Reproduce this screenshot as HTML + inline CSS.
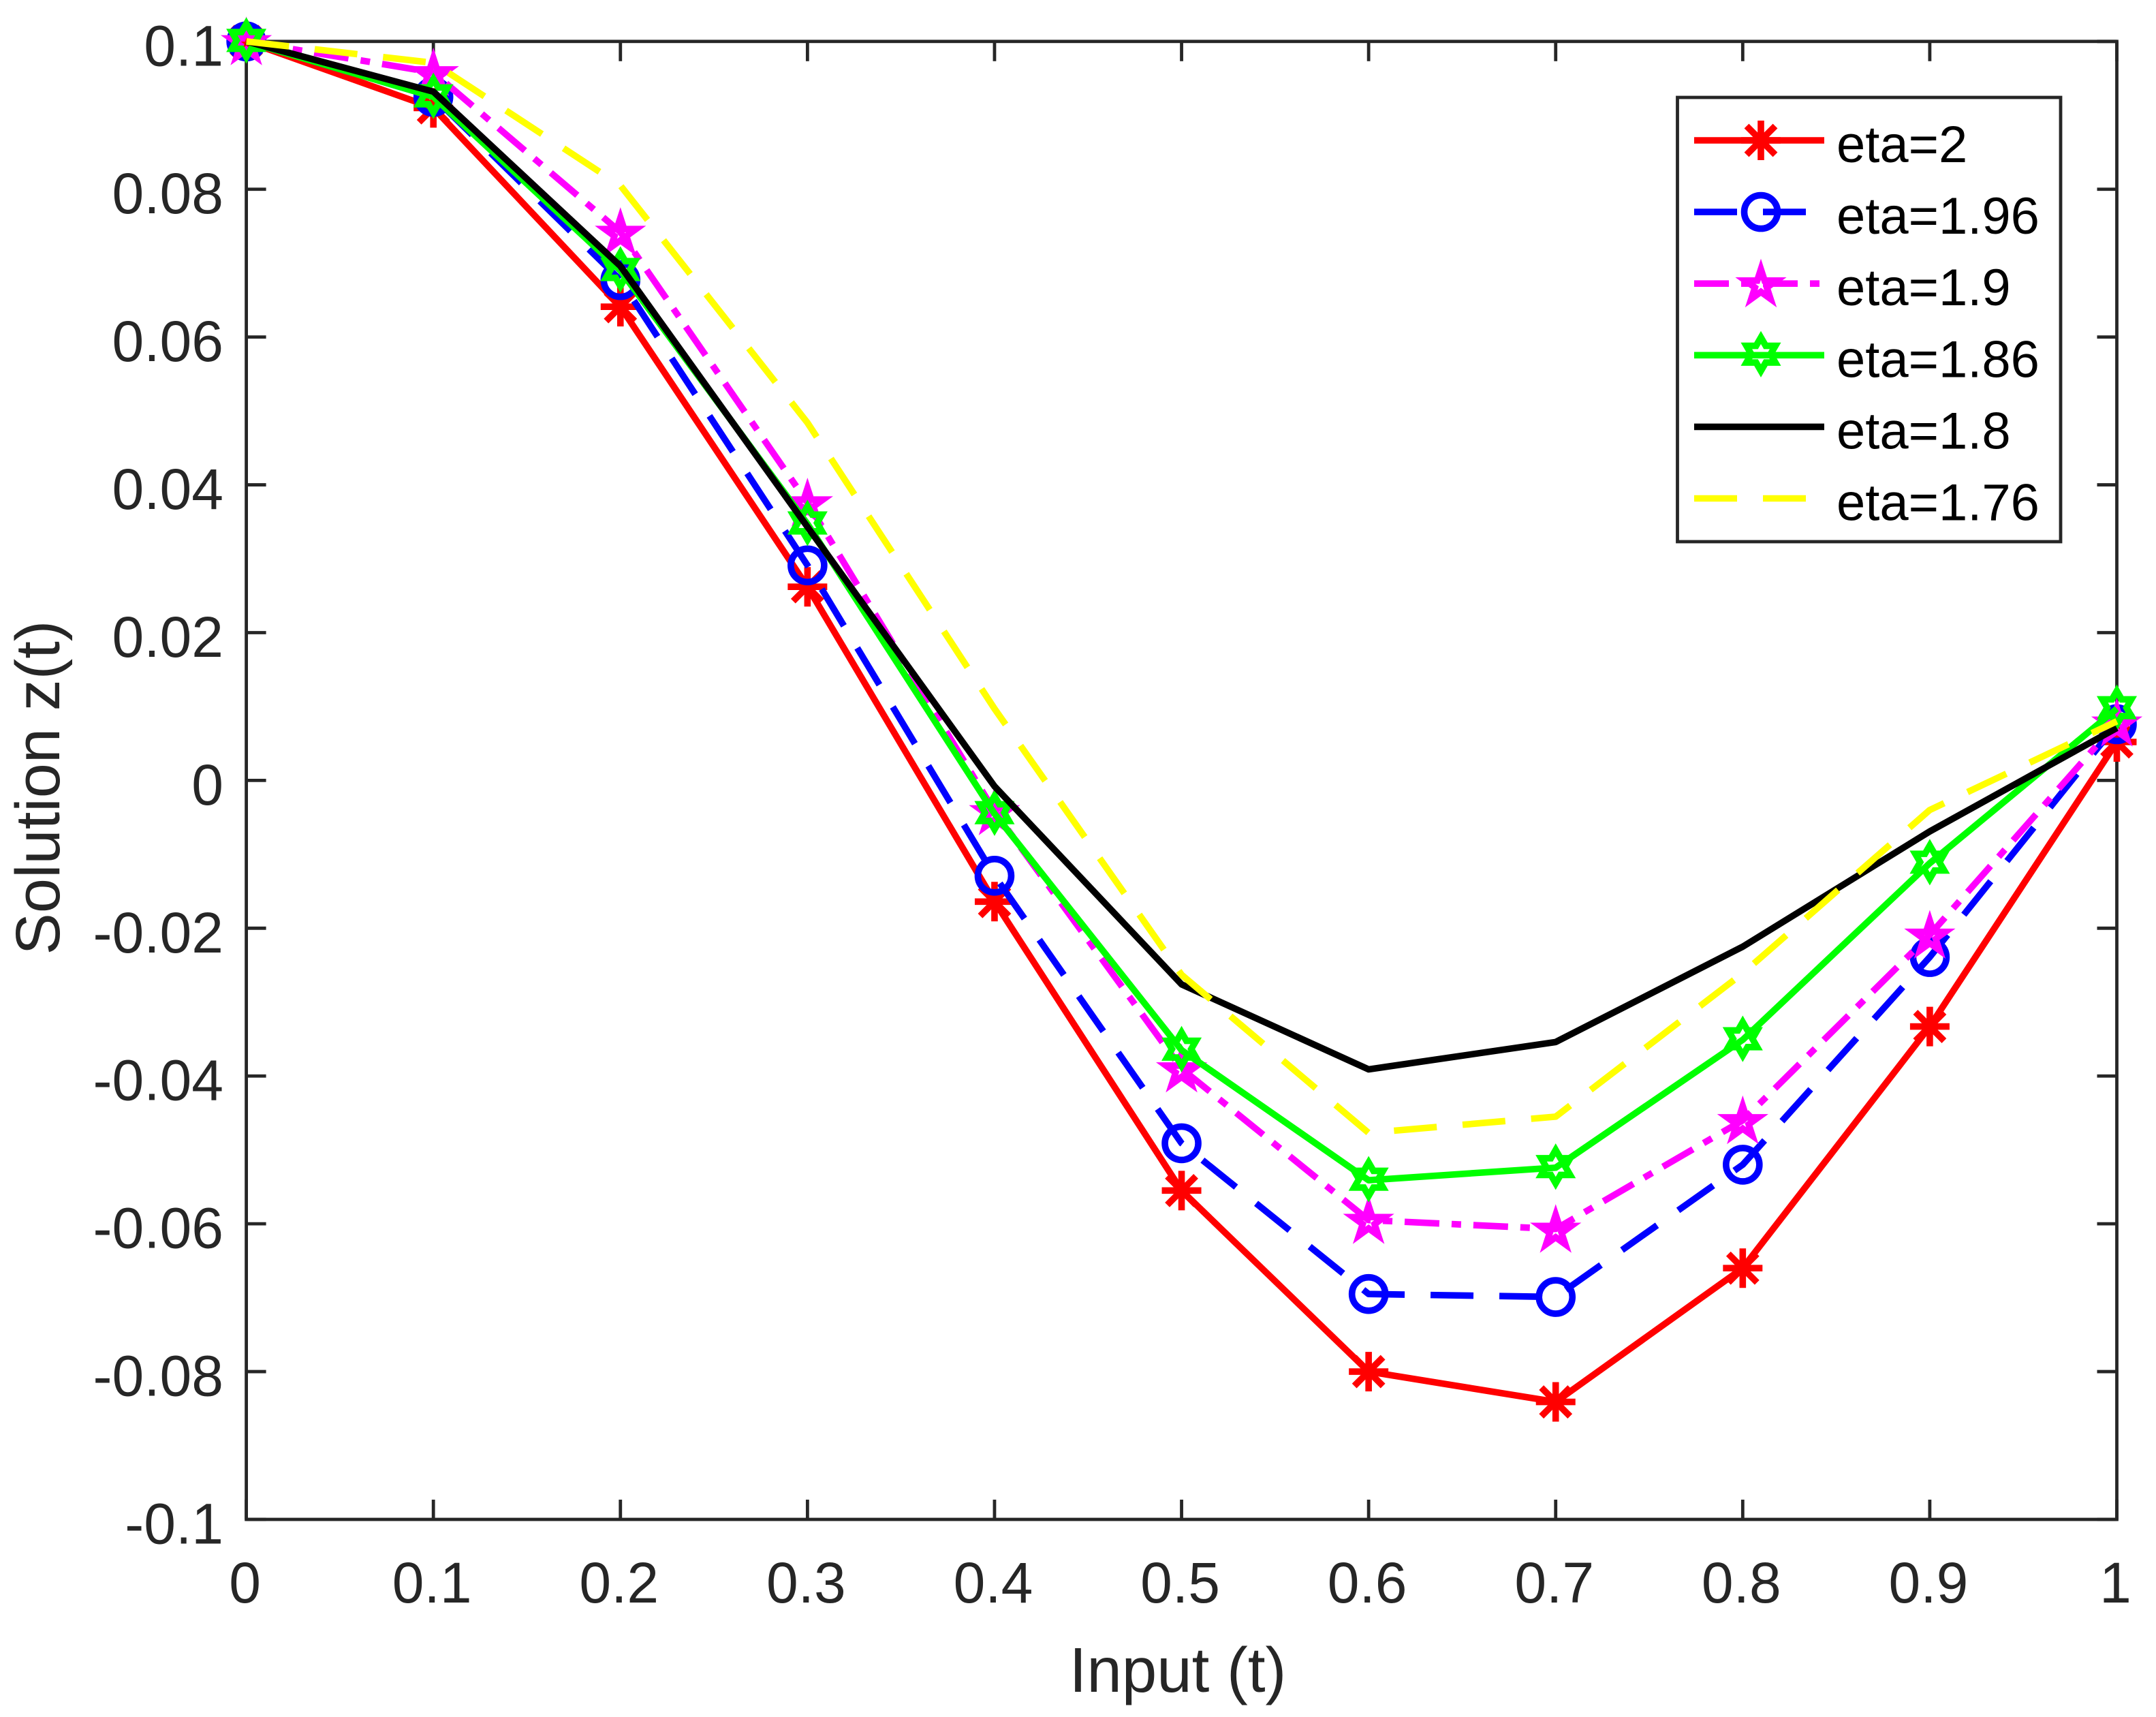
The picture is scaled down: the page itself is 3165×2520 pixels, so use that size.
<!DOCTYPE html>
<html lang="en">
<head>
<meta charset="utf-8">
<title>Solution z(t) versus Input (t)</title>
<style>
html,body{margin:0;padding:0;background:#fff;}
svg{display:block;font-family:"Liberation Sans",Arial,sans-serif;}
</style>
</head>
<body>
<svg id="chart" xmlns="http://www.w3.org/2000/svg" width="3165" height="2520" viewBox="0 0 3165 2520">
  <rect x="0" y="0" width="3165" height="2520" fill="#ffffff"/>
  <g id="axes"></g>
  <g id="series"></g>
  <g id="legend"></g>
  <text x="1729" y="2483" font-size="92.5" fill="#262626" text-anchor="middle">Input (t)</text>
  <text transform="translate(87 1156) rotate(-90)" font-size="92" fill="#262626" text-anchor="middle">Solution z(t)</text>
</svg>
<script>
const tValues = [0, 0.1, 0.2, 0.3, 0.4, 0.5, 0.6, 0.7, 0.8, 0.9, 1];
const xTickValues = [0, 0.1, 0.2, 0.3, 0.4, 0.5, 0.6, 0.7, 0.8, 0.9, 1];
const xTickLabels = ["0", "0.1", "0.2", "0.3", "0.4", "0.5", "0.6", "0.7", "0.8", "0.9", "1"];
const yTickValues = [0.1, 0.08, 0.06, 0.04, 0.02, 0, -0.02, -0.04, -0.06, -0.08, -0.1];
const yTickLabels = ["0.1", "0.08", "0.06", "0.04", "0.02", "0", "-0.02", "-0.04", "-0.06", "-0.08", "-0.1"];
const eta200 = [0.1, 0.0910, 0.0641, 0.0262, -0.0164, -0.0555, -0.0800, -0.0841, -0.0660, -0.0333, 0.0052];
const eta196 = [0.1, 0.0925, 0.0677, 0.0291, -0.0129, -0.0491, -0.0695, -0.0699, -0.0520, -0.0239, 0.0076];
const eta190 = [0.1, 0.0958, 0.0742, 0.0376, -0.0042, -0.0390, -0.0595, -0.0607, -0.0460, -0.0209, 0.0078];
const eta186 = [0.1, 0.0925, 0.0690, 0.0347, -0.0045, -0.0365, -0.0541, -0.0524, -0.0351, -0.0112, 0.0097];
const eta180 = [0.1, 0.0932, 0.0696, 0.0343, -0.0008, -0.0276, -0.0391, -0.0354, -0.0225, -0.0069, 0.0071];
const eta176 = [0.1, 0.0971, 0.0805, 0.0484, 0.0097, -0.0263, -0.0477, -0.0455, -0.0261, -0.0040, 0.0080];
const legendLabels = ["eta=2", "eta=1.96", "eta=1.9", "eta=1.86", "eta=1.8", "eta=1.76"];

const NS = "http://www.w3.org/2000/svg";
const plotLeft = 361.6, plotRight = 3107.5, plotTop = 60.8, plotBottom = 2230;
const xScale = v => plotLeft + (v - 0) / (1 - 0) * (plotRight - plotLeft);
const yScale = v => plotTop + (0.1 - v) / 0.2 * (plotBottom - plotTop);
const AXIS = "#262626";
const LW = 9.6;
const TICK_FONT = 84;

function mk(tag, parent, attrs) {
  const e = document.createElementNS(NS, tag);
  for (const k in attrs) e.setAttribute(k, attrs[k]);
  parent.appendChild(e);
  return e;
}

/* ---------- axes ---------- */
const axes = document.getElementById("axes");
const box = mk("rect", axes, {x: plotLeft, y: plotTop, width: plotRight - plotLeft, height: plotBottom - plotTop, fill: "none", stroke: AXIS, "stroke-width": 4.8});



xTickValues.forEach((v, i) => {
  const x = xScale(v);
  const b = mk("line", axes, {x1: x, x2: x, y1: plotBottom, y2: plotBottom - 29, stroke: AXIS, "stroke-width": 4.8});
  
  
  const t = mk("line", axes, {x1: x, x2: x, y1: plotTop, y2: plotTop + 29, stroke: AXIS, "stroke-width": 4.8});
  
  
  const l = mk("text", axes, {x: x - 2, y: 2352, "font-size": TICK_FONT, fill: AXIS, "text-anchor": "middle"});
  l.textContent = xTickLabels[i];
  
  
});

yTickValues.forEach((v, i) => {
  const y = yScale(v);
  const a = mk("line", axes, {x1: plotLeft, x2: plotLeft + 29, y1: y, y2: y, stroke: AXIS, "stroke-width": 4.8});
  
  
  const r = mk("line", axes, {x1: plotRight, x2: plotRight - 29, y1: y, y2: y, stroke: AXIS, "stroke-width": 4.8});
  
  
  const l = mk("text", axes, {x: 328, y: y + 35.5, "font-size": TICK_FONT, fill: AXIS, "text-anchor": "end"});
  l.textContent = yTickLabels[i];
  
  
});

/* ---------- markers ---------- */
function starPoints(cx, cy, R, r, n) {
  const p = [];
  for (let i = 0; i < n * 2; i++) {
    const a = -Math.PI / 2 + i * Math.PI / n;
    const rad = i % 2 ? r : R;
    p.push((cx + rad * Math.cos(a)).toFixed(2) + "," + (cy + rad * Math.sin(a)).toFixed(2));
  }
  return p.join(" ");
}

function drawMarker(parent, kind, cx, cy, color) {
  if (kind === "asterisk") {
    const d = `M${cx - 29} ${cy}H${cx + 29}M${cx} ${cy - 29}V${cy + 29}M${cx - 21} ${cy - 21}L${cx + 21} ${cy + 21}M${cx - 21} ${cy + 21}L${cx + 21} ${cy - 21}`;
    return mk("path", parent, {d: d, fill: "none", stroke: color, "stroke-width": LW});
  }
  if (kind === "circle") {
    return mk("circle", parent, {cx: cx, cy: cy, r: 24.5, fill: "none", stroke: color, "stroke-width": LW});
  }
  if (kind === "pentagram") {
    return mk("polygon", parent, {points: starPoints(cx, cy + 3, 24, 24 * 0.382, 5), fill: "none", stroke: color, "stroke-width": LW, "stroke-miterlimit": 10});
  }
  return mk("polygon", parent, {points: starPoints(cx, cy - 1.5, 24.5, 24.5 / Math.sqrt(3), 6), fill: "none", stroke: color, "stroke-width": LW, "stroke-miterlimit": 10});
}

/* ---------- series ---------- */
const seriesValues = [eta200, eta196, eta190, eta186, eta180, eta176];
const seriesColors = ["#ff0000", "#0000ff", "#ff00ff", "#00ff00", "#000000", "#ffff00"];
const seriesDash = ["none", "63 38", "51 18 14 18", "none", "none", "63 38"];
const seriesMarkers = ["asterisk", "circle", "pentagram", "hexagram", null, null];

const seriesRoot = document.getElementById("series");
seriesValues.forEach((vals, s) => {
  const g = mk("g", seriesRoot, {});
  
  
  const pts = vals.map((v, i) => xScale(tValues[i]).toFixed(2) + "," + yScale(v).toFixed(2)).join(" ");
  const line = mk("polyline", g, {points: pts, fill: "none", stroke: seriesColors[s], "stroke-width": LW, "stroke-linejoin": "round", "stroke-dasharray": seriesDash[s]});
  
  
  if (seriesMarkers[s]) {
    vals.forEach((v, i) => {
      const m = drawMarker(g, seriesMarkers[s], xScale(tValues[i]), yScale(v), seriesColors[s]);
      
      
    });
  }
});

/* ---------- legend ---------- */
const legend = document.getElementById("legend");
const legendBox = mk("rect", legend, {x: 2462.5, y: 143, width: 562.5, height: 652, fill: "#ffffff", stroke: AXIS, "stroke-width": 4.8});


legendLabels.forEach((label, s) => {
  const y = 206 + s * 105.1;
  const g = mk("g", legend, {});
  
  
  const sw = mk("line", g, {x1: 2487, x2: 2678, y1: y, y2: y, stroke: seriesColors[s], "stroke-width": LW, "stroke-dasharray": seriesDash[s]});
  
  
  if (seriesMarkers[s]) {
    const m = drawMarker(g, seriesMarkers[s], 2585, y, seriesColors[s]);
    
    
  }
  const t = mk("text", g, {x: 2696, y: y + 32, "font-size": 76, fill: "#000000"});
  t.textContent = label;
  
  
});
</script>
</body>
</html>
